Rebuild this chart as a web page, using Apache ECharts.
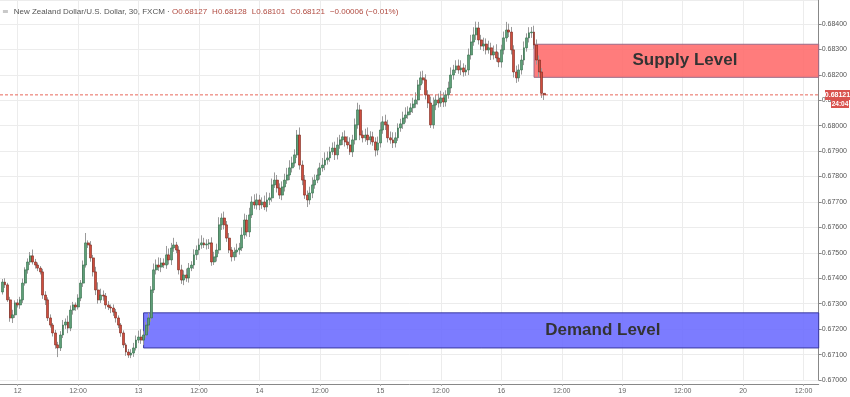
<!DOCTYPE html>
<html><head><meta charset="utf-8">
<script src="https://cdn.jsdelivr.net/npm/echarts@6/dist/echarts.min.js"></script>
<style>html,body{margin:0;padding:0;background:#fff}#c{width:850px;height:397px}</style>
</head><body><div id="c"></div>
<script>
// ---- data ----
const days = ['11','12','13','14','15','16','19','20'];   // trading days (weekend skipped)
const barsBeforeFirstDay = 7;      // 30-min slots shown before 12 00:00
const totalSlots = 326;            // slots spanned by the x axis
const firstDataSlot = 1;
const firstOpen = 0.67346;
const closes = [
0.67385,0.67374,0.67315,0.67244,0.67256,0.67303,
0.67295,0.67315,0.67381,0.67433,0.67464,0.67488,0.67464,0.67452,0.67440,0.67425,0.67334,0.67315,
0.67244,0.67216,0.67185,0.67138,0.67126,0.67177,0.67216,0.67228,0.67204,0.67275,0.67295,0.67287,
0.67322,0.67381,0.67452,0.67539,0.67531,0.67480,0.67425,0.67354,0.67315,0.67334,0.67330,0.67295,
0.67287,0.67283,0.67267,0.67244,0.67216,0.67185,0.67138,0.67110,0.67098,0.67106,0.67126,0.67157,
0.67169,0.67157,0.67177,0.67216,0.67244,0.67354,0.67433,0.67452,0.67444,0.67460,0.67452,0.67492,
0.67472,0.67519,0.67531,0.67511,0.67433,0.67393,0.67413,0.67401,0.67440,0.67452,0.67492,0.67511,
0.67531,0.67539,0.67531,0.67535,0.67539,0.67464,0.67484,0.67511,0.67610,0.67637,0.67610,0.67558,
0.67511,0.67484,0.67503,0.67511,0.67519,0.67570,0.67629,0.67582,0.67649,0.67700,0.67688,0.67708,
0.67688,0.67700,0.67680,0.67708,0.67716,0.67767,0.67786,0.67755,0.67727,0.67759,0.67786,0.67806,
0.67834,0.67853,0.67885,0.67963,0.67845,0.67786,0.67727,0.67708,0.67735,0.67767,0.67786,0.67806,
0.67834,0.67845,0.67865,0.67873,0.67897,0.67912,0.67885,0.67924,0.67944,0.67956,0.67936,0.67924,
0.67897,0.67944,0.68003,0.68062,0.67963,0.67952,0.67963,0.67944,0.67956,0.67936,0.67904,0.67932,
0.67983,0.68015,0.68003,0.67952,0.67944,0.67932,0.67952,0.67991,0.68007,0.68030,0.68042,0.68054,
0.68070,0.68085,0.68101,0.68160,0.68188,0.68180,0.68121,0.68089,0.68003,0.68081,0.68101,0.68089,
0.68109,0.68093,0.68121,0.68148,0.68199,0.68219,0.68235,0.68219,0.68227,0.68211,0.68219,0.68278,
0.68329,0.68357,0.68384,0.68337,0.68313,0.68321,0.68298,0.68306,0.68278,0.68290,0.68266,0.68250,
0.68298,0.68345,0.68376,0.68368,0.68298,0.68211,0.68188,0.68219,0.68258,0.68306,0.68345,0.68365,
0.68368,0.68317,0.68258,0.68211,0.68127,0.68121];
// wick lengths beyond the body, in points (0.00001)
const upperWick = [
12,15,8,12,20,10,15,12,18,10,14,15,25,12,10,8,12,15,10,14,8,12,12,15,
20,14,25,18,12,10,15,12,18,39,10,15,12,20,30,25,18,12,15,10,14,12,10,8,
10,8,12,15,20,18,25,30,15,12,20,15,25,22,30,20,18,35,25,20,28,12,15,20,
18,25,20,15,22,18,25,30,20,18,15,22,20,25,30,18,25,15,20,12,18,25,20,30,
25,20,28,22,30,25,20,18,25,30,20,25,30,20,18,22,25,28,30,25,22,20,30,18,
20,18,25,30,22,25,20,28,30,25,20,22,25,30,20,18,25,22,30,20,25,28,20,18,
25,30,22,20,18,25,30,22,28,20,25,30,22,18,20,25,30,22,18,25,30,20,25,28,
22,18,25,30,20,25,28,22,18,25,30,20,22,25,30,18,20,25,28,30,25,24,20,25,
22,28,20,25,30,22,20,25,32,25,20,18,25,22,20,25,18,22,20,25,22,18,15,1];
const lowerWick = [
10,12,8,15,20,12,10,15,12,10,15,12,10,14,12,10,15,20,12,10,14,15,36,12,
12,15,20,12,18,15,10,12,15,10,12,15,18,20,15,12,18,15,12,20,15,18,12,15,
12,15,11,12,15,10,12,15,20,12,25,15,12,18,15,20,12,15,18,20,15,12,18,15,
20,15,18,12,15,20,18,15,12,18,20,15,12,18,15,20,18,15,12,18,15,20,18,12,
15,18,20,12,15,18,20,15,12,18,20,15,12,18,15,20,18,15,20,18,15,12,18,20,
15,28,18,20,15,12,18,15,20,18,15,12,20,18,15,20,18,15,12,20,18,15,20,18,
15,20,18,15,25,20,18,15,20,18,15,20,18,12,15,20,18,15,12,20,15,18,20,15,
18,20,12,15,20,18,15,20,18,15,20,18,12,15,20,18,15,20,18,15,20,18,15,20,
18,15,20,18,15,20,22,18,15,20,18,22,20,15,18,20,15,18,20,15,18,20,18,20];
const supplyZone = [0.68190, 0.68320];
const demandZone = [0.67126, 0.67264];
const supplyStartSlot = 212, demandStartSlot = 57;
const yMin = 0.670, yMax = 0.68494, yStep = 0.001;
const header = {name:'New Zealand Dollar/U.S. Dollar, 30, FXCM', o:'0.68127', h:'0.68128', l:'0.68101', c:'0.68121', chg:'−0.00006 (−0.01%)'};
const countdown = '24:04';

// ---- build ----
const pad = n => (n < 10 ? '0' : '') + n;
const cats = [];
for (let k = 0; k < totalSlots; k++) {
  const i = k - barsBeforeFirstDay;
  const d = i < 0 ? days[0] : days[1 + Math.floor(i / 48)];
  const m = ((i % 48) + 48) % 48;
  cats.push(d + ' ' + pad(Math.floor(m / 2)) + ':' + (m % 2 ? '30' : '00'));
}
const wickData = [], bodyData = [];
for (let k = 0; k < totalSlots; k++) { wickData.push('-'); bodyData.push('-'); }
closes.forEach((c, j) => {
  const o = j === 0 ? firstOpen : closes[j - 1];
  const hi = Math.max(o, c) + upperWick[j] / 100000;
  const lo = Math.min(o, c) - lowerWick[j] / 100000;
  wickData[firstDataSlot + j] = [lo, hi, lo, hi];
  bodyData[firstDataSlot + j] = [o, c, Math.min(o, c), Math.max(o, c)];
});
const lastClose = closes[closes.length - 1];
const isTick = (idx, val) => /(00:00|12:00)$/.test(val) && (idx >= barsBeforeFirstDay);
const fs = 8;

const chart = echarts.init(document.getElementById('c'), null, {renderer: 'canvas'});
chart.setOption({
  animation: false,
  backgroundColor: '#fff',
  title: {
    left: 2, top: 3, padding: 0,
    text: '{i|≡} {n|' + header.name + ' · }{k|O}{v|' + header.o + '} {k|H}{v|' + header.h + '} {k|L}{v|' + header.l + '} {k|C}{v|' + header.c + '} {v|' + header.chg + '}',
    textStyle: { fontWeight: 'normal', rich: {
      i: {fontSize: 8, color: '#999', fontWeight: 'normal', fontFamily: 'DejaVu Sans'},
      n: {fontSize: fs, color: '#555', fontWeight: 'normal', fontFamily: 'Liberation Sans'},
      k: {fontSize: fs, color: '#b04a40', fontWeight: 'normal', fontFamily: 'Liberation Sans'},
      v: {fontSize: fs, color: '#b04a40', fontWeight: 'normal', fontFamily: 'Liberation Sans'}
    }}
  },
  grid: {left: 0, right: 26, top: 0, bottom: 17},
  xAxis: {
    type: 'category', data: cats, boundaryGap: false, offset: 4,
    axisLine: {lineStyle: {color: '#888'}},
    axisTick: {show: true, interval: isTick, length: 2, lineStyle: {color: '#aaa'}},
    axisLabel: {interval: isTick, fontSize: 7, color: '#666', margin: 4, fontFamily: 'Liberation Sans',
      formatter: v => v.endsWith('00:00') ? v.split(' ')[0] : '12:00'},
    splitLine: {show: true, interval: isTick, lineStyle: {color: '#ececec'}}
  },
  yAxis: {
    type: 'value', position: 'right', min: yMin, max: yMax, interval: yStep, scale: true,
    axisLine: {show: true, lineStyle: {color: '#888'}},
    axisTick: {show: true, length: 3, lineStyle: {color: '#888'}},
    axisLabel: {fontSize: 7, color: '#555', margin: 3, showMaxLabel: false, fontFamily: 'Liberation Sans',
      formatter: v => v.toFixed(5)},
    splitLine: {lineStyle: {color: '#ececec'}}
  },
  series: [
    {
      type: 'candlestick', name: 'wick', data: wickData, barWidth: 0.5,
      itemStyle: {color: '#9a9a9a', color0: '#9a9a9a', borderWidth: 1, borderColor: '#9a9a9a', borderColor0: '#9a9a9a'},
      markArea: {
        silent: true,
        data: [
          [{xAxis: cats[supplyStartSlot], yAxis: supplyZone[1],
            itemStyle: {color: 'rgba(255,110,110,0.9)', borderColor: '#9a6a86', borderWidth: 1},
            label: {show: true, position: ['53%', '50%'], align: 'center', verticalAlign: 'middle',
              formatter: 'Supply Level', fontSize: 17, fontWeight: 'bold', color: '#333', fontFamily: 'Liberation Sans'}},
           {xAxis: cats[totalSlots - 1], yAxis: supplyZone[0]}],
          [{xAxis: cats[demandStartSlot], yAxis: demandZone[1],
            itemStyle: {color: 'rgba(110,110,255,0.9)', borderColor: '#3a3aa0', borderWidth: 1},
            label: {show: true, position: ['68%', '50%'], align: 'center', verticalAlign: 'middle',
              formatter: 'Demand Level', fontSize: 17, fontWeight: 'bold', color: '#333', fontFamily: 'Liberation Sans'}},
           {xAxis: cats[totalSlots - 1], yAxis: demandZone[0]}]
        ]
      },
      z: 3
    },
    {
      type: 'line', name: 'last price', data: [[cats[0], lastClose], [cats[totalSlots - 1], lastClose]],
      showSymbol: false, symbol: 'none', silent: true,
      lineStyle: {color: '#e8685c', type: [3, 2], width: 1},
      z: 3.5
    },
    {
      type: 'candlestick', name: 'body', data: bodyData, barWidth: 2.4,
      itemStyle: {color: '#5e9f78', color0: '#cf4d3e', borderColor: '#2f6b47', borderColor0: '#7a2519', borderWidth: 0.6},
      z: 4
    }
  ]
});

const py = chart.convertToPixel({yAxisIndex: 0}, lastClose);
chart.setOption({
  graphic: [
    {type: 'rect', shape: {x: 825, y: Math.round(py) - 5, width: 25, height: 10}, style: {fill: '#d9534f'}, z: 100},
    {type: 'text', x: 837.5, y: Math.round(py), style: {text: lastClose.toFixed(5), fill: '#fff', fontSize: 7, fontWeight: 'bold', align: 'center', verticalAlign: 'middle', fontFamily: 'Liberation Sans'}, z: 101},
    {type: 'rect', shape: {x: 831, y: Math.round(py) + 5, width: 18, height: 8}, style: {fill: '#d9534f'}, z: 100},
    {type: 'text', x: 840, y: Math.round(py) + 9, style: {text: countdown, fill: '#fff', fontSize: 6.5, fontWeight: 'bold', align: 'center', verticalAlign: 'middle', fontFamily: 'Liberation Sans'}, z: 101}
  ]
});
</script></body></html>
